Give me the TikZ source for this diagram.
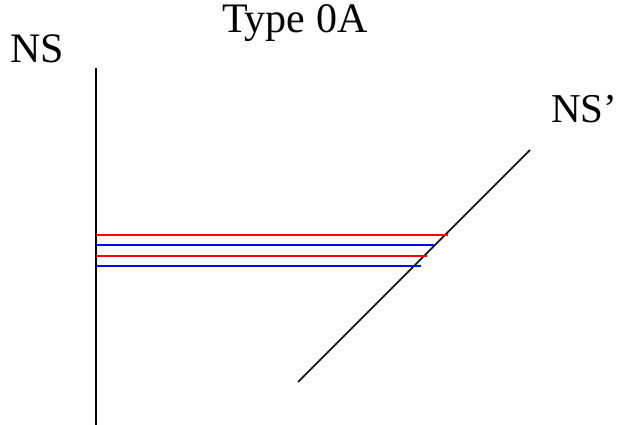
\documentclass[tikz,border=0pt]{standalone}
\usepackage{fontspec}
\setmainfont{Liberation Serif}

\begin{document}
\begin{tikzpicture}[x=1pt, y=-1pt,
  label/.style={anchor=base west, inner sep=0pt, font=\fontsize{42}{50}\selectfont},
  wall/.style={black, line width=1.6pt},
  ray/.style={line width=1.8pt}]

% === Colors ===
\definecolor{redline}{RGB}{255,0,0}
\definecolor{blueline}{RGB}{0,0,255}

\useasboundingbox (0,0) rectangle (618,425);

% === Labels ===
\node[label] (title) at (222,33) {Type 0A};
\node[label] (ns) at (10,63) {NS};
\node[label, font=\fontsize{41}{49}\selectfont] (nsp) at (551,123) {NS'};

% === Left wall (NS) ===
\coordinate (wtop) at (96,68);
\coordinate (wbot) at (96,425);
\draw[wall] (wtop) -- (wbot);

% === Tilted wall (NS') ===
\coordinate (ttop) at (530,150);
\coordinate (tbot) at (298,382);
\draw[wall] (tbot) -- (ttop);

% === Horizontal lines (red / blue) ===
\foreach \y/\xe/\c [count=\i] in {
  235/448/redline,
  245/434/blueline,
  256/427/redline,
  266/421/blueline}{
  \coordinate (s\i) at (96,\y);
  \coordinate (e\i) at (\xe,\y);
  \draw[ray, \c] (s\i) -- (e\i);
}

\end{tikzpicture}
\end{document}
